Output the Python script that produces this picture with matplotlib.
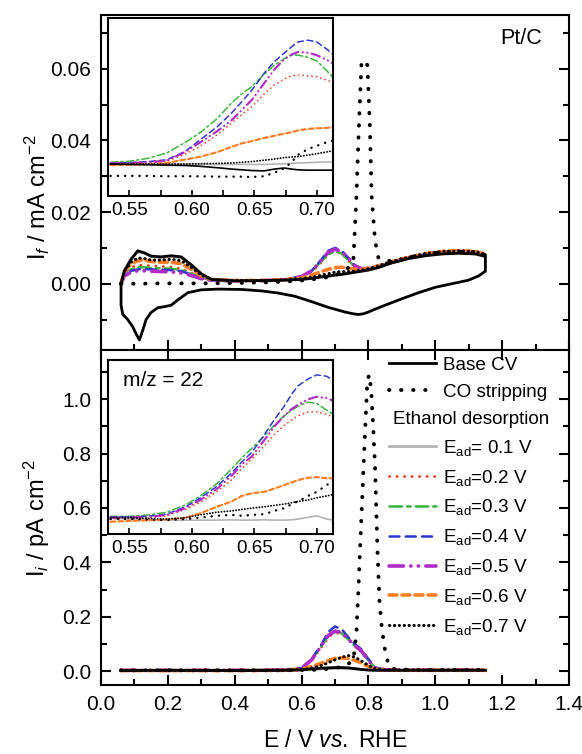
import matplotlib
matplotlib.use("Agg")
import matplotlib.pyplot as plt
import matplotlib.transforms as mtransforms
from matplotlib.lines import Line2D
from matplotlib.ticker import MultipleLocator

plt.rcParams['font.family'] = ['Liberation Sans', 'DejaVu Sans']
plt.rcParams['mathtext.fontset'] = 'custom'
plt.rcParams['mathtext.rm'] = 'Liberation Sans'
plt.rcParams['mathtext.it'] = 'Liberation Sans:italic'
plt.rcParams['axes.linewidth'] = 1.5

# ---------------- faradaic current (upper panel) ----------------
# base CV, anodic then cathodic sweep
cv_e_anodic = [0.06, 0.07, 0.09, 0.11, 0.13, 0.15, 0.18, 0.21, 0.24, 0.27, 0.30,
               0.33, 0.40, 0.50, 0.55, 0.60, 0.63, 0.66, 0.68, 0.70, 0.72, 0.74,
               0.76, 0.78, 0.80, 0.83, 0.87, 0.92, 0.97, 1.02, 1.07, 1.12, 1.15]
cv_i_anodic = [0.0000, 0.0035, 0.0068, 0.0092, 0.0086, 0.0077, 0.0075, 0.0078,
               0.0075, 0.0053, 0.0028, 0.0012, 0.0008, 0.0009, 0.0010, 0.0012,
               0.0015, 0.0019, 0.0021, 0.0024, 0.0026, 0.0029, 0.0032, 0.0035,
               0.0038, 0.0045, 0.0058, 0.0070, 0.0078, 0.0083, 0.0085, 0.0083,
               0.0076]
cv_e_cathodic = [1.15, 1.15, 1.13, 1.10, 1.05, 1.00, 0.95, 0.90, 0.85, 0.82,
                 0.80, 0.785, 0.77, 0.755, 0.73, 0.68, 0.63, 0.58, 0.53, 0.48,
                 0.42, 0.35, 0.30, 0.26, 0.23, 0.21, 0.19, 0.17, 0.15, 0.135,
                 0.125, 0.115, 0.105, 0.095, 0.08, 0.065, 0.06, 0.06]
cv_i_cathodic = [0.0076, 0.0035, 0.0022, 0.0010, 0.0000, -0.0010, -0.0025,
                 -0.0042, -0.0060, -0.0071, -0.0079, -0.0084, -0.0086,
                 -0.0084, -0.0079, -0.0066, -0.0050, -0.0035, -0.0026,
                 -0.0020, -0.0016, -0.0015, -0.0017, -0.0025, -0.0045,
                 -0.0060, -0.0064, -0.0067, -0.0080, -0.0100, -0.0130,
                 -0.0157, -0.0140, -0.0120, -0.0100, -0.0085, -0.0060,
                 0.0000]

co_e_f = [0.06, 0.10, 0.20, 0.30, 0.40, 0.50, 0.55, 0.60, 0.65, 0.70, 0.74,
          0.755, 0.764, 0.772, 0.779, 0.788, 0.797, 0.804, 0.81, 0.82, 0.83,
          0.87, 0.92, 0.97, 1.02, 1.07, 1.12, 1.15]
co_i_f = [0.0000, 0.0000, 0.0001, 0.0001, 0.0002, 0.0004, 0.0006, 0.0009,
          0.0014, 0.0022, 0.0045, 0.0065, 0.0240, 0.0450, 0.0610, 0.0625,
          0.0610, 0.0450, 0.0240, 0.0120, 0.0072, 0.0062, 0.0073, 0.0082,
          0.0088, 0.0090, 0.0088, 0.0080]

# ethanol desorption sweeps share the anodic potential grid
etoh_i_f = {
    '0.1': [0.0000, 0.0040, 0.0070, 0.0088, 0.0086, 0.0076, 0.0073, 0.0076,
            0.0072, 0.0050, 0.0026, 0.0012, 0.0008, 0.0009, 0.0010, 0.0012,
            0.0015, 0.0020, 0.0022, 0.0025, 0.0027, 0.0030, 0.0033, 0.0036,
            0.0040, 0.0047, 0.0060, 0.0072, 0.0080, 0.0085, 0.0087, 0.0085,
            0.0078],
    '0.2': [0.0000, 0.0030, 0.0045, 0.0052, 0.0052, 0.0050, 0.0048, 0.0047,
            0.0042, 0.0030, 0.0018, 0.0010, 0.0008, 0.0009, 0.0011, 0.0018,
            0.0032, 0.0060, 0.0082, 0.0092, 0.0085, 0.0065, 0.0045, 0.0040,
            0.0042, 0.0048, 0.0060, 0.0072, 0.0082, 0.0088, 0.0090, 0.0088,
            0.0080],
    '0.3': [0.0000, 0.0028, 0.0040, 0.0046, 0.0046, 0.0044, 0.0043, 0.0042,
            0.0038, 0.0028, 0.0016, 0.0010, 0.0008, 0.0009, 0.0012, 0.0020,
            0.0035, 0.0063, 0.0082, 0.0090, 0.0084, 0.0066, 0.0046, 0.0040,
            0.0042, 0.0048, 0.0060, 0.0072, 0.0082, 0.0088, 0.0090, 0.0088,
            0.0080],
    '0.4': [0.0000, 0.0025, 0.0036, 0.0040, 0.0041, 0.0040, 0.0039, 0.0038,
            0.0035, 0.0026, 0.0015, 0.0009, 0.0008, 0.0009, 0.0012, 0.0020,
            0.0036, 0.0068, 0.0092, 0.0100, 0.0092, 0.0072, 0.0050, 0.0042,
            0.0043, 0.0048, 0.0060, 0.0072, 0.0082, 0.0088, 0.0090, 0.0088,
            0.0080],
    '0.5': [0.0000, 0.0022, 0.0032, 0.0036, 0.0036, 0.0035, 0.0034, 0.0033,
            0.0030, 0.0023, 0.0014, 0.0009, 0.0008, 0.0009, 0.0012, 0.0020,
            0.0036, 0.0066, 0.0088, 0.0096, 0.0090, 0.0072, 0.0050, 0.0042,
            0.0043, 0.0048, 0.0060, 0.0072, 0.0082, 0.0088, 0.0090, 0.0088,
            0.0080],
    '0.6': [0.0000, 0.0035, 0.0055, 0.0064, 0.0066, 0.0062, 0.0060, 0.0060,
            0.0056, 0.0040, 0.0022, 0.0012, 0.0009, 0.0009, 0.0011, 0.0016,
            0.0024, 0.0034, 0.0040, 0.0045, 0.0046, 0.0044, 0.0040, 0.0040,
            0.0043, 0.0050, 0.0062, 0.0074, 0.0084, 0.0090, 0.0092, 0.0090,
            0.0082],
    '0.7': [0.0000, 0.0035, 0.0060, 0.0072, 0.0070, 0.0066, 0.0066, 0.0068,
            0.0064, 0.0046, 0.0024, 0.0012, 0.0009, 0.0009, 0.0011, 0.0014,
            0.0018, 0.0024, 0.0028, 0.0032, 0.0034, 0.0034, 0.0035, 0.0038,
            0.0042, 0.0050, 0.0062, 0.0074, 0.0084, 0.0090, 0.0092, 0.0090,
            0.0082],
}

# zoomed window 0.53 - 0.71 V (inset scale, a.u.)
inset_e = [0.535, 0.55, 0.565, 0.58, 0.595, 0.606, 0.62, 0.632, 0.64, 0.648,
           0.658, 0.666, 0.674, 0.68, 0.685, 0.693, 0.70, 0.708, 0.713]
inset_cv_f = [0.0334, 0.0333, 0.0332, 0.0331, 0.0330, 0.0328, 0.0324, 0.0320,
              0.0318, 0.0316, 0.0315, 0.0320, 0.0323, 0.0320, 0.0318, 0.0317,
              0.0317, 0.0317, 0.0317]
inset_co_f = [0.0301, 0.0301, 0.0301, 0.0300, 0.0300, 0.0300, 0.0299, 0.0299,
              0.0299, 0.0298, 0.0300, 0.0310, 0.0322, 0.0340, 0.0360, 0.0376,
              0.0385, 0.0395, 0.0400]
inset_etoh_f = {
    '0.1': [0.0336, 0.0335, 0.0334, 0.0334, 0.0334, 0.0333, 0.0333, 0.0333,
            0.0333, 0.0333, 0.0333, 0.0334, 0.0335, 0.0336, 0.0337, 0.0338,
            0.0339, 0.0340, 0.0340],
    '0.2': [0.0334, 0.0335, 0.0337, 0.0342, 0.0362, 0.0382, 0.0415, 0.0449,
            0.0472, 0.0494, 0.0530, 0.0555, 0.0572, 0.0580, 0.0583, 0.0580,
            0.0578, 0.0568, 0.0562],
    '0.3': [0.0339, 0.0342, 0.0350, 0.0365, 0.0395, 0.0420, 0.0460, 0.0505,
            0.0530, 0.0550, 0.0585, 0.0610, 0.0628, 0.0638, 0.0638, 0.0632,
            0.0622, 0.0595, 0.0575],
    '0.4': [0.0337, 0.0338, 0.0341, 0.0346, 0.0370, 0.0400, 0.0437, 0.0477,
            0.0508, 0.0540, 0.0588, 0.0620, 0.0644, 0.0662, 0.0675, 0.0680,
            0.0675, 0.0655, 0.0640],
    '0.5': [0.0336, 0.0337, 0.0339, 0.0344, 0.0368, 0.0393, 0.0425, 0.0457,
            0.0485, 0.0513, 0.0560, 0.0598, 0.0627, 0.0640, 0.0647, 0.0645,
            0.0638, 0.0625, 0.0615],
    '0.6': [0.0331, 0.0332, 0.0334, 0.0337, 0.0347, 0.0354, 0.0367, 0.0382,
            0.0392, 0.0398, 0.0407, 0.0413, 0.0419, 0.0423, 0.0428, 0.0432,
            0.0434, 0.0435, 0.0437],
    '0.7': [0.0334, 0.0334, 0.0334, 0.0334, 0.0334, 0.0335, 0.0336, 0.0337,
            0.0339, 0.0341, 0.0345, 0.0348, 0.0352, 0.0354, 0.0355, 0.0359,
            0.0363, 0.0368, 0.0371],
}

# ---------------- ion current m/z = 22 (lower panel) ----------------
ms_e = [0.06, 0.20, 0.40, 0.55, 0.60, 0.63, 0.66, 0.68, 0.70, 0.72, 0.74,
        0.76, 0.78, 0.80, 0.82, 0.85, 0.90, 1.00, 1.15]
ms_cv = [0.003, 0.004, 0.003, 0.004, 0.006, 0.009, 0.012, 0.013, 0.014, 0.014,
         0.013, 0.010, 0.007, 0.005, 0.004, 0.004, 0.004, 0.004, 0.004]
ms_etoh = {
    '0.1': [0.003, 0.004, 0.003, 0.004, 0.005, 0.007, 0.009, 0.010, 0.011, 0.011,
            0.010, 0.009, 0.007, 0.005, 0.004, 0.004, 0.004, 0.004, 0.004],
    '0.2': [0.004, 0.004, 0.004, 0.005, 0.012, 0.040, 0.090, 0.125, 0.142, 0.138,
            0.118, 0.095, 0.075, 0.042, 0.014, 0.006, 0.005, 0.005, 0.005],
    '0.3': [0.004, 0.004, 0.004, 0.005, 0.013, 0.042, 0.095, 0.130, 0.145, 0.140,
            0.116, 0.092, 0.072, 0.040, 0.013, 0.006, 0.005, 0.005, 0.005],
    '0.4': [0.004, 0.004, 0.004, 0.005, 0.012, 0.045, 0.100, 0.145, 0.165, 0.155,
            0.125, 0.100, 0.080, 0.045, 0.015, 0.006, 0.005, 0.005, 0.005],
    '0.5': [0.004, 0.004, 0.004, 0.005, 0.012, 0.042, 0.095, 0.132, 0.148, 0.142,
            0.118, 0.094, 0.074, 0.040, 0.013, 0.006, 0.005, 0.005, 0.005],
    '0.6': [0.003, 0.003, 0.003, 0.004, 0.008, 0.018, 0.030, 0.040, 0.048, 0.050,
            0.047, 0.040, 0.030, 0.018, 0.009, 0.005, 0.004, 0.004, 0.004],
    '0.7': [0.004, 0.004, 0.004, 0.005, 0.006, 0.012, 0.022, 0.032, 0.042, 0.052,
            0.058, 0.052, 0.038, 0.022, 0.010, 0.006, 0.005, 0.005, 0.005],
}
co_e_ms = [0.06, 0.30, 0.55, 0.65, 0.70, 0.73, 0.755, 0.764, 0.770, 0.775,
           0.782, 0.790, 0.797, 0.803, 0.809, 0.815, 0.820, 0.827, 0.833,
           0.840, 0.851, 0.863, 0.88, 0.92, 1.00, 1.15]
co_i_ms = [0.004, 0.004, 0.004, 0.006, 0.012, 0.020, 0.040, 0.140, 0.300,
           0.450, 0.650, 0.880, 1.070, 1.090, 1.020, 0.880, 0.750, 0.450,
           0.260, 0.160, 0.066, 0.015, 0.008, 0.006, 0.006, 0.005]

inset_co_ms = [0.560, 0.560, 0.558, 0.556, 0.560, 0.565, 0.572, 0.575, 0.572,
               0.575, 0.578, 0.590, 0.600, 0.615, 0.625, 0.645, 0.660, 0.685,
               0.700]
inset_etoh_ms = {
    '0.1': [0.565, 0.560, 0.558, 0.556, 0.556, 0.556, 0.556, 0.557, 0.556,
            0.556, 0.557, 0.556, 0.556, 0.557, 0.560, 0.566, 0.572, 0.560,
            0.556],
    '0.2': [0.560, 0.562, 0.565, 0.572, 0.595, 0.620, 0.660, 0.705, 0.745,
            0.780, 0.830, 0.870, 0.905, 0.925, 0.940, 0.953, 0.955, 0.945,
            0.935],
    '0.3': [0.570, 0.570, 0.575, 0.585, 0.612, 0.642, 0.690, 0.745, 0.785,
            0.820, 0.865, 0.905, 0.940, 0.960, 0.975, 0.990, 0.985, 0.960,
            0.945],
    '0.4': [0.568, 0.568, 0.570, 0.578, 0.605, 0.635, 0.680, 0.730, 0.770,
            0.805, 0.870, 0.925, 0.975, 1.020, 1.050, 1.075, 1.090, 1.085,
            1.070],
    '0.5': [0.565, 0.566, 0.568, 0.575, 0.600, 0.628, 0.670, 0.720, 0.760,
            0.790, 0.850, 0.900, 0.940, 0.965, 0.980, 1.000, 1.010, 1.005,
            0.995],
    '0.6': [0.550, 0.553, 0.555, 0.558, 0.565, 0.580, 0.605, 0.625, 0.645,
            0.655, 0.660, 0.672, 0.685, 0.695, 0.703, 0.712, 0.714, 0.710,
            0.710],
    '0.7': [0.565, 0.565, 0.562, 0.560, 0.565, 0.575, 0.585, 0.590, 0.595,
            0.600, 0.605, 0.610, 0.615, 0.620, 0.625, 0.630, 0.638, 0.645,
            0.650],
}

e_ad = ['0.1', '0.2', '0.3', '0.4', '0.5', '0.6', '0.7']
styles = {
    '0.1': dict(color='#b4b4b4', ls='-', lw=2.0),
    '0.2': dict(color='#ff3a1a', ls=(0, (0.1, 2.6)), lw=2.0),
    '0.3': dict(color='#3cb43c', ls=(0, (5, 2, 1.5, 2)), lw=1.8),
    '0.4': dict(color='#2b38c8', ls=(0, (4, 2.5)), lw=1.8),
    '0.5': dict(color='#b02cc8', ls=(0, (4, 2, 0.1, 2, 0.1, 2)), lw=2.6),
    '0.6': dict(color='#ff7f24', ls=(0, (2.2, 1.4)), lw=2.6),
    '0.7': dict(color='black', ls=(0, (0.1, 1.5)), lw=2.2),
}
cv_style = dict(color='black', ls='-', lw=2.0)
co_style = dict(color='black', ls=(0, (0.1, 3.0)), lw=2.8)


def draw_sweeps(ax, e, sweeps, cv_e=None, cv_i=None, co_e=None, co_i=None,
                scale=1.0):
    for key in e_ad:
        st = styles[key]
        ax.plot(e, sweeps[key], color=st['color'], ls=st['ls'],
                lw=st['lw'] * scale, dash_capstyle='round')
    if co_e is not None:
        ax.plot(co_e, co_i, color='black', ls=co_style['ls'],
                lw=co_style['lw'] * scale, dash_capstyle='round')
    if cv_e is not None:
        ax.plot(cv_e, cv_i, color='black', lw=cv_style['lw'] * scale)


def style_main(ax):
    ax.set_xlim(0.0, 1.4)
    ax.xaxis.set_major_locator(MultipleLocator(0.2))
    ax.xaxis.set_minor_locator(MultipleLocator(0.1))
    ax.tick_params(which='both', direction='in', width=1.5, right=True,
                   labelsize=15, pad=7)
    ax.tick_params(which='major', length=7)
    ax.tick_params(which='minor', length=4)


def style_inset(ax, ylim):
    ax.set_xlim(0.533, 0.713)
    ax.set_ylim(*ylim)
    ax.xaxis.set_major_locator(MultipleLocator(0.05))
    ax.xaxis.set_minor_locator(MultipleLocator(0.025))
    ax.set_yticks([])
    ax.tick_params(axis='x', which='both', direction='in', length=4,
                   width=1.2, labelsize=13.5, pad=4)
    for sp in ax.spines.values():
        sp.set_linewidth(1.5)


fig = plt.figure(figsize=(5.82, 7.54), dpi=100)
ax1 = fig.add_axes([0.1735, 0.5358, 0.8041, 0.4443])
ax2 = fig.add_axes([0.1735, 0.0915, 0.8041, 0.4443])

# upper panel
draw_sweeps(ax1, cv_e_anodic, etoh_i_f, cv_e_anodic + cv_e_cathodic,
            cv_i_anodic + cv_i_cathodic, co_e_f, co_i_f)
style_main(ax1)
ax1.set_ylim(-0.0185, 0.075)
ax1.yaxis.set_major_locator(MultipleLocator(0.02))
ax1.yaxis.set_minor_locator(MultipleLocator(0.01))
ax1.yaxis.set_major_formatter(lambda v, p: f"{v:.2f}")
ax1.tick_params(axis='x', top=False, labelbottom=False)
ax1.set_ylabel(r"I$_{f}$ / mA cm$^{-2}$", fontsize=17)
ax1.yaxis.set_label_coords(-0.105, 0.455)
ax1.text(0.942, 0.93, "Pt/C", transform=ax1.transAxes, ha='right',
         va='center', fontsize=15.5)

# lower panel
draw_sweeps(ax2, ms_e, ms_etoh, ms_e, ms_cv, co_e_ms, co_i_ms)
style_main(ax2)
ax2.set_ylim(-0.05, 1.18)
ax2.yaxis.set_major_locator(MultipleLocator(0.2))
ax2.yaxis.set_minor_locator(MultipleLocator(0.1))
ax2.yaxis.set_major_formatter(lambda v, p: f"{v:.1f}")
ax2.tick_params(axis='x', top=True)
ax2.set_ylabel(r"I$_{i}$ / pA cm$^{-2}$", fontsize=17)
ax2.yaxis.set_label_coords(-0.105, 0.5)
ax2.set_xlabel(r"E / V $\it{vs.}$ RHE", fontsize=16.5, labelpad=11)

# insets
ins1 = fig.add_axes([0.1856, 0.7401, 0.3866, 0.2361])
draw_sweeps(ins1, inset_e, inset_etoh_f, inset_e, inset_cv_f, inset_e,
            inset_co_f, scale=0.6)
style_inset(ins1, (0.0245, 0.0742))

ins2 = fig.add_axes([0.1856, 0.2918, 0.3866, 0.2308])
draw_sweeps(ins2, inset_e, inset_etoh_ms, co_e=inset_e, co_i=inset_co_ms,
            scale=0.6)
style_inset(ins2, (0.505, 1.145))
ins2.text(0.065, 0.88, "m/z = 22", transform=ins2.transAxes, ha='left',
          va='center', fontsize=15)

# legend
handles = [Line2D([], [], **cv_style),
           Line2D([], [], dash_capstyle='round', **co_style),
           Line2D([], [], color='none')]
labels = ['Base CV', 'CO stripping', 'Ethanol desorption']
for key in e_ad:
    handles.append(Line2D([], [], dash_capstyle='round', **styles[key]))
    sep = ' ' if key == '0.1' else ''
    labels.append(r"E$_{\mathrm{ad}}$=" + sep + key + " V")
leg = ax2.legend(handles, labels, loc='upper left',
                 bbox_to_anchor=(0.615, 0.98), frameon=False, fontsize=13.6,
                 handlelength=2.5, handletextpad=0.35, labelspacing=0.52,
                 borderaxespad=0, borderpad=0)
shift = mtransforms.ScaledTranslation(-0.5, 0, fig.dpi_scale_trans)
eth = leg.get_texts()[2]
eth.set_transform(eth.get_transform() + shift)

fig.savefig('out.png', dpi=100)
